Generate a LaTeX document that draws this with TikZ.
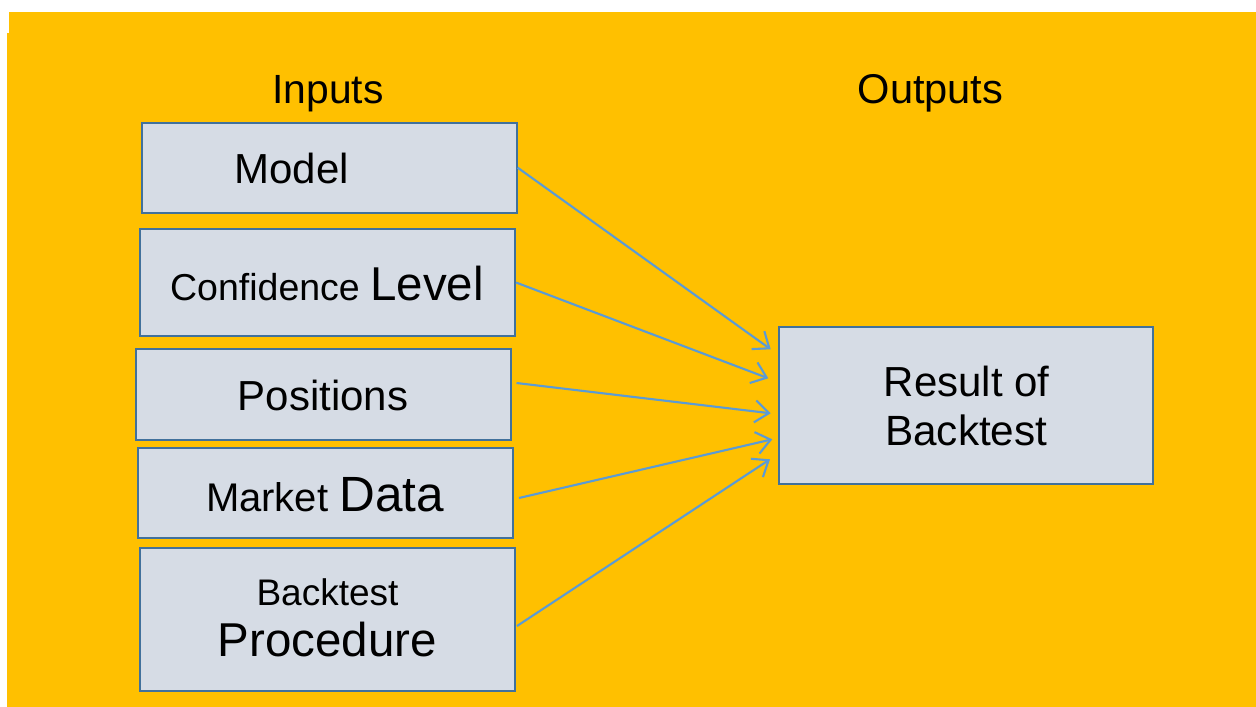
\documentclass[tikz,border=0pt]{standalone}
\usepackage{fontspec}
\setmainfont{Liberation Sans}
\usetikzlibrary{arrows.meta,calc}
\definecolor{bgorange}{HTML}{FFC000}
\definecolor{boxfill}{HTML}{D6DCE5}
\definecolor{boxline}{HTML}{41719C}
\definecolor{arrowblue}{HTML}{5B9BD5}
\newcommand{\fs}[1]{\fontsize{#1}{#1}\selectfont}
\begin{document}
\begin{tikzpicture}[x=1pt,y=-1pt,
  inbox/.style={draw=boxline,fill=boxfill,line width=2pt,rectangle,inner sep=0pt},
  txt/.style={anchor=base,inner sep=0pt,text=black},
  conn/.style={draw=arrowblue,line width=2.1pt,-{Straight Barb[length=14pt,width=22pt,line width=2.1pt]}}]
\useasboundingbox (0,0) rectangle (1256,707);
\fill[white] (0,0) rectangle (1256,707);
\fill[bgorange] (9,12) -- (1256,12) -- (1256,707) -- (7,707) -- (7,33) -- (9,33) -- cycle;
% headings
\node[txt] (hin) at (328,103.3) {\fs{40.8}Inputs};
\node[txt] (hout) at (930.5,103.3) {\fs{41.6}Outputs};
% input boxes
\node[inbox,minimum width=374.4pt,minimum height=90pt] (model) at (329.5,167.7) {};
\node[inbox,minimum width=375pt,minimum height=107pt] (conf) at (327.5,282.5) {};
\node[inbox,minimum width=375pt,minimum height=91pt] (pos) at (323.5,394.5) {};
\node[inbox,minimum width=375.3pt,minimum height=90pt] (mkt) at (325.3,493) {};
\node[inbox,minimum width=375pt,minimum height=143pt] (proc) at (327.5,619.5) {};
\node[inbox,minimum width=374pt,minimum height=157.6pt] (res) at (966,405.5) {};
% texts
\node[txt] (modelt) at (291.7,183) {\fs{42}Model};
\node[txt] (conft) at (327,300.7) {\fs{37.5}Confidence {\fs{47.5}Level}};
\node[txt] (post) at (323,410) {\fs{42}Positions};
\node[txt] (mktt) at (325,511.7) {\fs{40}Market {\fs{49.5}Data}};
\node[txt] (proct1) at (327.5,605) {\fs{37}Backtest};
\node[txt] (proct2) at (327.5,656.7) {\fs{47.5}Procedure};
\node[txt] (rest1) at (966.7,396) {\fs{42}Result of};
\node[txt] (rest2) at (966.3,445) {\fs{42.3}Backtest};
% arrow tips
\coordinate (t1) at ($(res.west)+(-7.3,-56.2)$);
\coordinate (t2) at ($(res.west)+(-9.7,-27.2)$);
\coordinate (t3) at ($(res.west)+(-7.3,7.8)$);
\coordinate (t4) at ($(res.west)+(-5.7,33.8)$);
\coordinate (t5) at ($(res.west)+(-8,53.8)$);
% connectors
\draw[conn] (model.east) -- (t1);
\draw[conn] (conf.east) -- (t2);
\draw[conn] ($(pos.east)+(4.5,-11.5)$) -- (t3);
\draw[conn] ($(mkt.east)+(5,5)$) -- (t4);
\draw[conn] ($(proc.east)+(1,6.5)$) -- (t5);
\end{tikzpicture}
\end{document}
